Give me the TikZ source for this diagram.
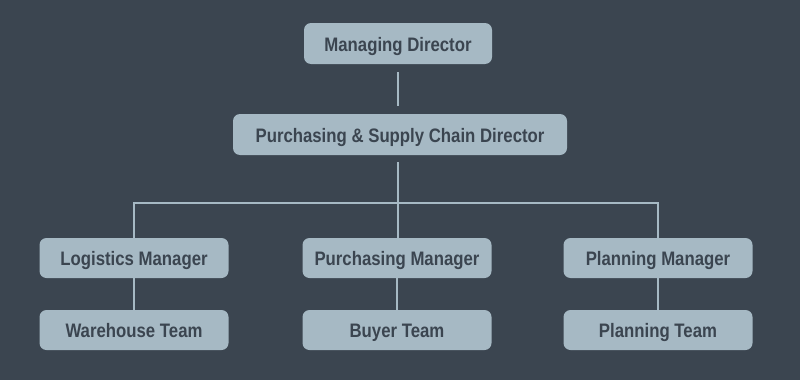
\documentclass[tikz,border=0pt]{standalone}
\usepackage{fontspec}
\setmainfont{Liberation Sans}[FakeStretch=0.86]
\definecolor{chartbg}{RGB}{59,69,80}
\definecolor{boxfill}{RGB}{166,185,196}
\definecolor{boxtext}{RGB}{59,69,80}
\tikzset{
  role/.style={fill=boxfill,rounded corners=7pt,minimum height=40pt,
    inner sep=0pt,text height=15pt,text depth=0pt,text=boxtext,
    font=\fontsize{19.5}{21}\selectfont\bfseries},
  link/.style={draw=boxfill,line width=2pt}
}

\begin{document}
\begin{tikzpicture}[x=1pt,y=1pt]
  \fill[chartbg] (0,0) rectangle (800,-380);
  \useasboundingbox (0,0) rectangle (800,-380);

  \node[role,minimum width=188pt,minimum height=41pt] (md) at (398,-43.5) {Managing Director};
  \node[role,minimum width=334pt,minimum height=41pt] (pscd) at (400,-134.5) {Purchasing \& Supply Chain Director};

  \node[role,minimum width=189pt] (lm) at (134,-258) {Logistics Manager};
  \node[role,minimum width=189pt] (pm) at (397,-258) {Purchasing Manager};
  \node[role,minimum width=189pt] (plm) at (658,-258) {Planning Manager};

  \node[role,minimum width=189pt] (wt) at (134,-330) {Warehouse Team};
  \node[role,minimum width=189pt] (bt) at (397,-330) {Buyer Team};
  \node[role,minimum width=189pt] (pt) at (658,-330) {Planning Team};

  \coordinate (bus) at (398,-203);

  \draw[link,shorten <=8pt,shorten >=8pt] (md.south) -- (md.south |- pscd.north);
  \draw[link,shorten <=7pt] (bus |- pscd.south) -- (bus);
  \draw[link] (lm) |- (bus) -| (plm);
  \draw[link] (bus) -- (bus |- pm.north);
  \draw[link] (lm) -- (wt);
  \draw[link] (pm) -- (bt);
  \draw[link] (plm) -- (pt);
\end{tikzpicture}
\end{document}
